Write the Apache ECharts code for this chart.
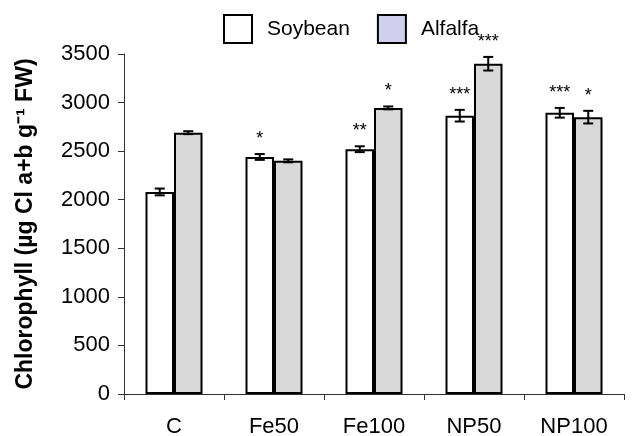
<!DOCTYPE html>
<html>
<head>
<meta charset="utf-8">
<script src="https://cdn.jsdelivr.net/npm/echarts@6/dist/echarts.min.js"></script>
<style>
	html, body { margin: 0; padding: 0; background: #fff; }
	#chart { width: 638px; height: 436px; }
</style>
</head>
<body>
<div id="chart"></div>
<script>
const categories = ["C", "Fe50", "Fe100", "NP50", "NP100"];
const soybean = [2080, 2440, 2520, 2865, 2895];
const alfalfa = [2690, 2400, 2945, 3400, 2850];
const soybeanErr = [35, 30, 30, 60, 50];
const alfalfaErr = [15, 15, 15, 70, 65];
const soybeanSig = ["", "*", "**", "***", "***"];
const alfalfaSig = ["", "", "*", "***", "*"];
const yTicks = [0, 500, 1000, 1500, 2000, 2500, 3000, 3500];

const font = "Liberation Sans, Arial, sans-serif";
const barW = 28.5;

function errorSeries(name, values, errs, sig, side) {
	return {
		name: name + " err",
		type: "custom",
		z: 5,
		data: values.map((v, i) => [i, v, errs[i], sig[i]]),
		renderItem(params, api) {
			const i = api.value(0);
			const v = api.value(1);
			const e = api.value(2);
			const top = api.coord([i, v + e]);
			const bot = api.coord([i, v - e]);
			const x = top[0] + side * barW / 2;
			const cap = 5;
			const style = { stroke: "#000", lineWidth: 2 };
			const children = [
				{ type: "line", shape: { x1: x, y1: top[1], x2: x, y2: bot[1] }, style },
				{ type: "line", shape: { x1: x - cap, y1: top[1], x2: x + cap, y2: top[1] }, style },
				{ type: "line", shape: { x1: x - cap, y1: bot[1], x2: x + cap, y2: bot[1] }, style }
			];
			const s = sig[i];
			if (s) {
				children.push({
					type: "text",
					style: {
						text: s,
						x: x,
						y: top[1] - 6,
						align: "center",
						verticalAlign: "bottom",
						font: "18px " + font,
						fill: "#000"
					}
				});
			}
			return { type: "group", children };
		}
	};
}

const chart = echarts.init(document.getElementById("chart"));

const option = {
	animation: false,
	textStyle: { fontFamily: font },
	grid: { left: 124, right: 14, top: 54, bottom: 42, outerBoundsMode: "none" },
	legend: {
		top: 9,
		left: 218,
		itemWidth: 28,
		itemHeight: 28,
		itemGap: 27,
		icon: "rect",
		textStyle: { fontSize: 21, color: "#000", fontFamily: font, padding: [0, 0, 0, 10] },
		data: [
			{ name: "Soybean", itemStyle: { color: "#fff", borderColor: "#000", borderWidth: 2 } },
			{ name: "Alfalfa", itemStyle: { color: "#d0d0ee", borderColor: "#000", borderWidth: 2 } }
		]
	},
	xAxis: {
		type: "category",
		data: categories,
		axisLine: { lineStyle: { color: "#333", width: 1 } },
		axisTick: { show: true, length: 6, lineStyle: { color: "#333" } },
		axisLabel: { fontSize: 22, color: "#000", margin: 22, fontFamily: font }
	},
	yAxis: {
		type: "value",
		min: yTicks[0],
		max: yTicks[yTicks.length - 1],
		interval: 500,
		name: "Chlorophyll (µg Cl a+b g⁻¹ FW)",
		nameLocation: "middle",
		nameGap: 87,
		nameTextStyle: { fontSize: 23, fontWeight: "bold", color: "#000", fontFamily: font },
		axisLine: { show: true, lineStyle: { color: "#333", width: 1 } },
		axisTick: { show: true, length: 6, lineStyle: { color: "#333" } },
		axisLabel: { fontSize: 22, color: "#000", margin: 14, fontFamily: font, formatter: v => String(v) },
		splitLine: { show: false }
	},
	series: [
		{
			name: "Soybean",
			type: "bar",
			data: soybean,
			barWidth: barW,
			barGap: "0%",
			itemStyle: { color: "#fff", borderColor: "#000", borderWidth: 2 }
		},
		{
			name: "Alfalfa",
			type: "bar",
			data: alfalfa,
			barWidth: barW,
			barGap: "0%",
			itemStyle: { color: "#d9d9d9", borderColor: "#000", borderWidth: 2 }
		},
		errorSeries("Soybean", soybean, soybeanErr, soybeanSig, -1),
		errorSeries("Alfalfa", alfalfa, alfalfaErr, alfalfaSig, 1)
	]
};

chart.setOption(option);
</script>
</body>
</html>
